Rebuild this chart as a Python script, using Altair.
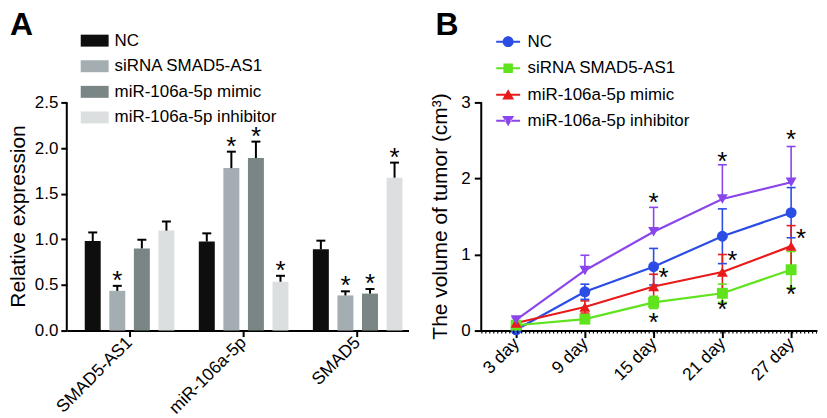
import altair as alt
import pandas as pd

FONT = "Liberation Sans"

# ---------------- Panel A data ----------------
genes = ["SMAD5-AS1", "miR-106a-5p", "SMAD5"]
groups = ["NC", "siRNA SMAD5-AS1", "miR-106a-5p mimic", "miR-106a-5p inhibitor"]
bar_colors = ["#0e0e0e", "#a3adb2", "#7a8585", "#dcdfdf"]

nc_expr = [0.98, 0.975, 0.89]
sirna_expr = [0.435, 1.78, 0.385]
mimic_expr = [0.90, 1.89, 0.405]
inhib_expr = [1.095, 0.535, 1.675]

nc_err = [0.095, 0.09, 0.095]
sirna_err = [0.055, 0.18, 0.045]
mimic_err = [0.095, 0.18, 0.05]
inhib_err = [0.10, 0.065, 0.165]

nc_sig = [False, False, False]
sirna_sig = [True, True, True]
mimic_sig = [False, True, True]
inhib_sig = [False, True, True]

# ---------------- Panel B data ----------------
days = ["3 day", "9 day", "15 day", "21 day", "27 day"]
series = ["NC", "siRNA SMAD5-AS1", "miR-106a-5p mimic", "miR-106a-5p inhibitor"]
line_colors = ["#2b4de6", "#5fe31c", "#e81a1a", "#8a45ec"]
nc_vol = [0.01, 0.51, 0.84, 1.24, 1.55]
sirna_vol = [0.07, 0.15, 0.37, 0.49, 0.80]
mimic_vol = [0.10, 0.31, 0.58, 0.77, 1.11]
inhib_vol = [0.14, 0.79, 1.30, 1.73, 1.95]
nc_sd = [0.02, 0.10, 0.24, 0.36, 0.33]
sirna_sd = [0.03, 0.05, 0.08, 0.12, 0.24]
mimic_sd = [0.03, 0.08, 0.16, 0.23, 0.27]
inhib_sd = [0.03, 0.20, 0.32, 0.45, 0.47]
upper_only = ["miR-106a-5p inhibitor"]

star_days = ["15 day", "21 day", "27 day"]
star_above = [1.755, 2.30, 2.585]
star_right = [0.764, 0.99, 1.28]
star_below = [0.18, 0.345, 0.546]

# ---------------- tables ----------------
rowsA = []
for g, vals, errs, sigs in zip(groups,
                               [nc_expr, sirna_expr, mimic_expr, inhib_expr],
                               [nc_err, sirna_err, mimic_err, inhib_err],
                               [nc_sig, sirna_sig, mimic_sig, inhib_sig]):
    for gene, v, e, s in zip(genes, vals, errs, sigs):
        rowsA.append({"gene": gene, "group": g, "value": v, "hi": v + e, "sig": s})
dfA = pd.DataFrame(rowsA)

rowsB = []
for g, vals, sds in zip(series, [nc_vol, sirna_vol, mimic_vol, inhib_vol],
                        [nc_sd, sirna_sd, mimic_sd, inhib_sd]):
    for d, v, s in zip(days, vals, sds):
        rowsB.append({"day": d, "series": g, "vol": v, "hi": v + s,
                      "lo": v if g in upper_only else v - s,
                      "lower": g not in upper_only})
dfB = pd.DataFrame(rowsB)

starsB = pd.DataFrame(
    [{"day": d, "y": y, "kind": "above"} for d, y in zip(star_days, star_above)]
    + [{"day": d, "y": y, "kind": "right"} for d, y in zip(star_days, star_right)]
    + [{"day": d, "y": y, "kind": "below"} for d, y in zip(star_days, star_below)]
)
one = pd.DataFrame({"k": [0]})

# ---------------- Panel A ----------------
WA, HA = 343, 321
axis_common = dict(tickColor="black", domainColor="black", labelColor="black",
                   titleColor="black", grid=False)

xA = alt.X("gene:N", sort=genes,
           scale=alt.Scale(domain=genes, paddingInner=0.214, paddingOuter=0.105, align=0.75),
           axis=alt.Axis(title=None, labelAngle=-45, labelAlign="right", labelBaseline="middle",
                         labelFontSize=17.5, labelPadding=3, tickSize=6, tickWidth=2,
                         domainWidth=2, **axis_common))
xoffA = alt.XOffset("group:N", sort=groups,
                    scale=alt.Scale(domain=groups, paddingInner=0.35, paddingOuter=0))
yA_scale = alt.Scale(domain=[0, 3.504], nice=False, zero=False)
yA = alt.Y("value:Q", scale=yA_scale,
           axis=alt.Axis(values=[0, 0.5, 1, 1.5, 2, 2.5], format=".1f", domain=False,
                         tickSize=6, tickWidth=2, labelFontSize=17, labelPadding=3,
                         title="Relative expression", titleFontSize=21, titleFontWeight="normal",
                         titleX=-42, titleY=206, titleAngle=270, titleAlign="center",
                         titleBaseline="alphabetic", **axis_common))

RECT_PATH = "M-1.647,-0.706H1.647V0.706H-1.647Z"

barsA = alt.Chart(dfA).mark_bar().encode(
    x=xA, xOffset=xoffA, y=yA,
    color=alt.Color("group:N", sort=groups,
                    scale=alt.Scale(domain=groups, range=bar_colors),
                    legend=alt.Legend(title=None, orient="none", legendX=19.5, legendY=21.5,
                                      symbolType=RECT_PATH, symbolSize=289, labelFontSize=17,
                                      labelOffset=11.5, rowPadding=7.7, padding=0,
                                      labelLimit=0, symbolStrokeWidth=0, labelColor="black")),
)
errA = alt.Chart(dfA).mark_rule(color="black", strokeWidth=2).encode(
    x=xA, xOffset=xoffA, y=alt.Y("value:Q", scale=yA_scale), y2="hi:Q")
capA = alt.Chart(dfA).mark_tick(color="black", size=9, thickness=2, opacity=1).encode(
    x=xA, xOffset=xoffA, y=alt.Y("hi:Q", scale=yA_scale))
starA = alt.Chart(dfA).transform_filter("datum.sig").mark_text(
    text="*", fontSize=26, baseline="alphabetic", dy=3, color="black").encode(
    x=xA, xOffset=xoffA, y=alt.Y("hi:Q", scale=yA_scale))
yaxisA = alt.Chart(one).mark_rule(color="black", strokeWidth=2).encode(
    x=alt.value(0), y=alt.datum(0, scale=yA_scale), y2=alt.datum(2.5))
labelA = alt.Chart(one).mark_text(text="A", fontSize=32, fontWeight="bold",
                                  align="left", baseline="top", color="black").encode(
    x=alt.value(-57), y=alt.value(-1))

panelA = alt.layer(barsA, errA, capA, starA, yaxisA, labelA).properties(width=WA, height=HA)

# ---------------- Panel B ----------------
WB, HB = 337, 321
xB = alt.X("day:N", sort=days,
           scale=alt.Scale(type="point", domain=days, padding=0.442, align=0.574),
           axis=alt.Axis(title=None, labelAngle=-45, labelAlign="right", labelBaseline="middle",
                         labelFontSize=17.5, labelPadding=3, tickSize=7, tickWidth=2,
                         domainWidth=2, **axis_common))
yB_scale = alt.Scale(domain=[0, 4.205], nice=False, zero=False)
yB = alt.Y("vol:Q", scale=yB_scale,
           axis=alt.Axis(values=[0, 1, 2, 3], format="d", domain=False,
                         tickSize=7, tickWidth=2, labelFontSize=17, labelPadding=4,
                         title="The volume of tumor (cm³)", titleFontSize=21,
                         titleFontWeight="normal", titleX=-35, titleY=206, titleAngle=270,
                         titleAlign="center", titleBaseline="alphabetic", **axis_common))
colB_scale = alt.Scale(domain=series, range=line_colors)
colB = alt.Color("series:N", sort=series, scale=colB_scale, legend=None)

errB = alt.Chart(dfB).mark_rule(strokeWidth=1.6).encode(
    x=xB, y=alt.Y("lo:Q", scale=yB_scale), y2="hi:Q", color=colB)
capHiB = alt.Chart(dfB).mark_tick(size=9, thickness=1.6, opacity=1).encode(
    x=xB, y=alt.Y("hi:Q", scale=yB_scale), color=colB)
capLoB = alt.Chart(dfB).transform_filter("datum.lower").mark_tick(
    size=9, thickness=1.6, opacity=1).encode(
    x=xB, y=alt.Y("lo:Q", scale=yB_scale), color=colB)
lineB = alt.Chart(dfB).mark_line(strokeWidth=2.2).encode(
    x=xB, y=yB, color=colB, detail="series:N")
ptsB = alt.Chart(dfB).mark_point(filled=True, opacity=1, size=120).encode(
    x=xB, y=alt.Y("vol:Q", scale=yB_scale), color=colB,
    shape=alt.Shape("series:N", sort=series,
                    scale=alt.Scale(domain=series,
                                    range=["circle", "square", "triangle-up", "triangle-down"]),
                    legend=None))

# legend glyphs: short line with the series marker in the middle
seg = "M-1.41,-0.118H-0.3V0.118H-1.41Z M0.3,-0.118H1.41V0.118H0.3Z "
legend_paths = [
    seg + "M-0.647,0A0.647,0.647 0 1,1 0.647,0A0.647,0.647 0 1,1 -0.647,0Z",
    seg + "M-0.56,-0.56H0.56V0.56H-0.56Z",
    seg + "M0,-0.66L0.7,0.55L-0.7,0.55Z",
    seg + "M0,0.66L0.7,-0.55L-0.7,-0.55Z",
]
legend_rows_y = [22.5, 49.2, 75.8, 101.8]
legend_layers = []
for s, path, ly in zip(series, legend_paths, legend_rows_y):
    legend_layers.append(
        alt.Chart(dfB).transform_filter("false").mark_point(filled=True, opacity=1).encode(
            x=xB, y=alt.Y("vol:Q", scale=yB_scale),
            color=alt.Color("series:N", sort=series, scale=colB_scale,
                            legend=alt.Legend(title=None, orient="none", values=[s],
                                              legendX=18.5, legendY=ly, symbolSize=289,
                                              symbolType=path, labelFontSize=17,
                                              labelOffset=11, padding=0, labelLimit=0,
                                              symbolStrokeWidth=0, labelColor="black")))
    )

starB_c = alt.Chart(starsB).transform_filter("datum.kind != 'right'").mark_text(
    text="*", fontSize=26, baseline="alphabetic", dy=14, color="black").encode(
    x=xB, y=alt.Y("y:Q", scale=yB_scale))
starB_r = alt.Chart(starsB).transform_filter("datum.kind == 'right'").mark_text(
    text="*", fontSize=26, baseline="alphabetic", dy=14, dx=10, color="black").encode(
    x=xB, y=alt.Y("y:Q", scale=yB_scale))
yaxisB = alt.Chart(one).mark_rule(color="black", strokeWidth=2).encode(
    x=alt.value(0), y=alt.datum(0, scale=yB_scale), y2=alt.datum(3))
minorB = alt.Chart(one).mark_rule(color="black", strokeWidth=3, strokeDash=[1.2, 2.8]).encode(
    x=alt.value(0), x2=alt.value(WB), y=alt.value(HB + 1.5))
labelB = alt.Chart(one).mark_text(text="B", fontSize=32, fontWeight="bold",
                                  align="left", baseline="top", color="black").encode(
    x=alt.value(-46), y=alt.value(-1))

panelB = alt.layer(errB, capHiB, capLoB, lineB, ptsB, *legend_layers, starB_c, starB_r,
                   yaxisB, minorB, labelB).resolve_scale(shape="independent").resolve_legend(
    color="independent").properties(width=WB, height=HB)

chart = alt.hconcat(panelA, panelB, spacing=20).resolve_scale(
    color="independent").resolve_legend(color="independent").properties(
    padding=0).configure(font=FONT).configure_view(stroke=None)

chart.save("out.html", embed_options={"renderer": "svg", "actions": False})
